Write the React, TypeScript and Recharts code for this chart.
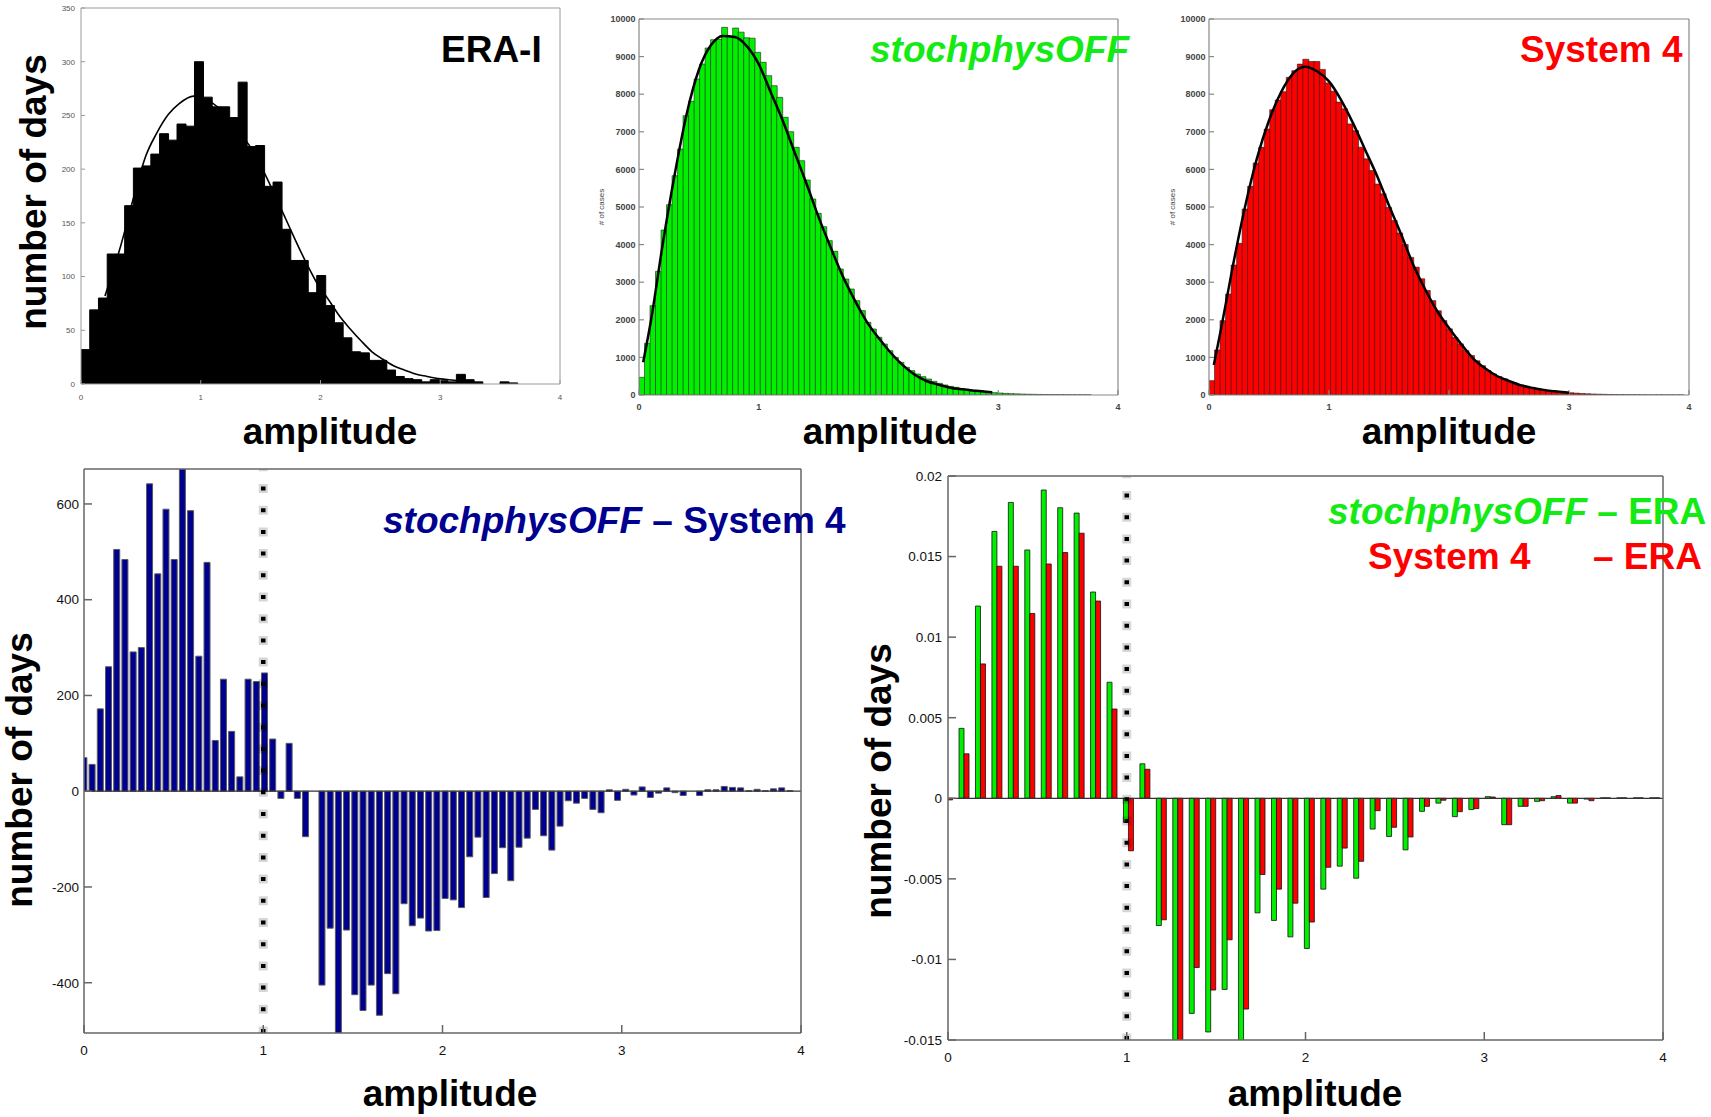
import React from 'react';
import { BarChart, LineChart, Bar, Line, XAxis, YAxis, ReferenceLine } from 'recharts';

const FONT = '"Liberation Sans", Arial, Helvetica, sans-serif';
const GREEN = '#00f000';
const GREEN_TEXT = '#14ea14';
const RED = '#ff0000';
const NAVY = '#000090';

// amplitude axis, shared by all five panels
const AMP_TICKS = [0, 1, 2, 3, 4];
const AMP_LABELS = ['0', '1', '2', '3', '4'];
const AMP_LABELS_MODEL = ['0', '1', '', '3', '4'];

// ERA-Interim: days per amplitude bin + fitted curve
const ERA_BIN = 0.0729;
const ERA_COUNTS = [
  32, 69, 80, 121, 121, 166, 201, 203, 214, 233, 227, 242, 240, 300, 267, 258, 258, 248, 281, 221,
  222, 184, 188, 144, 115, 115, 85, 101, 73, 57, 43, 30, 29, 22, 22, 13, 7, 5, 4, 2,
  4, 3, 2, 9, 4, 2, 0, 0, 2, 1,
];
const ERA_FIT_X = [
  0.2, 0.33, 0.45, 0.54, 0.63, 0.73, 0.82, 0.94, 1.06, 1.15, 1.24, 1.33, 1.43, 1.52, 1.61, 1.7,
  1.79, 1.88, 1.97, 2.07, 2.16, 2.25, 2.34, 2.43, 2.52, 2.61, 2.7, 2.8, 2.89, 2.98, 3.07, 3.16,
];
const ERA_FIT_Y = [
  82, 128, 178, 212, 233, 251, 261, 268, 264, 257, 246, 233, 218, 199, 178, 156,
  134, 113, 94, 78, 63, 51, 40, 30, 23, 17, 13, 9, 7, 5, 4, 3,
];
const ERA_Y_TICKS = [0, 50, 100, 150, 200, 250, 300, 350];

// stochphysOFF: cases per bin + fit
const OFF_BIN = 0.046;
const OFF_COUNTS = [
  470, 1374, 2376, 3289, 4388, 5062, 5833, 6542, 7429, 7810, 8404, 8803, 9229, 9450, 9460, 9778,
  9540, 9760, 9650, 9500, 9490, 9113, 8847, 8493, 8227, 7916, 7385, 7003, 6587, 6232, 5718, 5213,
  4831, 4477, 4105, 3821, 3351, 3085, 2819, 2509, 2243, 1933, 1755, 1534, 1356, 1179, 1002, 869,
  736, 647, 558, 488, 426, 363, 310, 266, 230, 204, 168, 145, 122, 103, 88, 75,
  62, 52, 43, 36, 30, 25, 21, 18, 15, 12, 10, 9, 7, 6, 5, 4, 4, 3,
];
const OFF_FIT_X = [
  0.035, 0.1, 0.2, 0.3, 0.4, 0.5, 0.6, 0.7, 0.8, 0.9, 1.0, 1.1, 1.2, 1.3, 1.4, 1.5,
  1.6, 1.7, 1.8, 1.9, 2.0, 2.1, 2.2, 2.3, 2.4, 2.5, 2.6, 2.7, 2.8, 2.9, 2.95,
];
const OFF_FIT_Y = [
  870, 1980, 4050, 5900, 7500, 8650, 9300, 9550, 9520, 9280, 8800, 8050, 7300, 6450, 5610, 4730,
  3930, 3170, 2530, 1960, 1520, 1130, 800, 545, 372, 275, 195, 150, 115, 85, 75,
];

// System 4: cases per bin + fit
const S4_BIN = 0.046;
const S4_COUNTS = [
  381, 1197, 1977, 2686, 3457, 4034, 4947, 5549, 6170, 6587, 7074, 7588, 7845, 8067, 8448, 8626,
  8800, 8930, 8870, 8870, 8660, 8300, 8080, 7790, 7610, 7210, 7030, 6590, 6280, 5970, 5610, 5350,
  4990, 4640, 4310, 4000, 3660, 3400, 3090, 2780, 2510, 2240, 1980, 1760, 1530, 1360, 1180, 1050,
  910, 780, 650, 560, 490, 430, 360, 310, 270, 230, 200, 175, 150, 125, 105, 88,
  72, 60, 50, 40, 33, 27, 22, 18, 14, 11, 9, 7, 6, 5, 4, 3, 3, 2, 2, 2, 1, 1,
];
const S4_FIT_X = [
  0.04, 0.1, 0.2, 0.3, 0.4, 0.5, 0.6, 0.7, 0.8, 0.9, 1.0, 1.1, 1.2, 1.3, 1.4, 1.5,
  1.6, 1.7, 1.8, 1.9, 2.0, 2.1, 2.2, 2.3, 2.4, 2.5, 2.6, 2.7, 2.8, 2.9, 3.0,
];
const S4_FIT_Y = [
  800, 1750, 3450, 5000, 6300, 7300, 8050, 8550, 8730, 8610, 8340, 7850, 7230, 6530, 5830, 5040,
  4280, 3480, 2820, 2240, 1780, 1360, 975, 710, 505, 372, 257, 186, 130, 90, 60,
];
const CASES_Y_TICKS = [0, 1000, 2000, 3000, 4000, 5000, 6000, 7000, 8000, 9000, 10000];

// stochphysOFF minus System 4 (days per bin)
const DIFF_STEP = 0.0458;
const DIFF_DAYS = [
  70, 56, 172, 260, 505, 484, 291, 300, 642, 454,
  589, 484, 690, 586, 282, 478, 106, 234, 125, 30,
  234, 229, 247, 109, -15, 100, -15, -95, 0, -405,
  -286, -530, -290, -425, -458, -405, -468, -381, -423, -235,
  -281, -265, -292, -291, -224, -227, -243, -137, -96, -222,
  -172, -118, -187, -117, -98, -38, -93, -123, -73, -20,
  -25, -15, -38, -45, 3, -19, 4, -8, 9, -13,
  -4, 7, -3, -9, 0, -9, 3, 3, 10, 8,
  7, 1, 4, 1, 5, 7, 1,
];
const DIFF_Y_TICKS = [-400, -200, 0, 200, 400, 600];
const DIFF_Y_DOMAIN: [number, number] = [-505, 673];

// model minus ERA, normalised frequency
const ERA_DIFF_STEP = 0.092;
const OFF_MINUS_ERA = [
  0, 0.00434, 0.01193, 0.01656, 0.01836, 0.01541, 0.01913, 0.01803, 0.0177, 0.0128,
  0.0072, -0.0015, 0.00214, -0.0079, -0.0175, -0.01335, -0.0145, -0.01186, -0.017, -0.00711,
  -0.00758, -0.0086, -0.00932, -0.00564, -0.00421, -0.00496, -0.00191, -0.00237, -0.0032, -0.00081,
  -0.0003, -0.00114, -0.0007, 0.0001, -0.00164, -0.0005, -0.00019, 0.0001, -0.0003, -0.00005,
  0.00003, 0.00003, 0.00003, 0.00003,
];
const S4_MINUS_ERA = [
  -0.0001, 0.00276, 0.00834, 0.0144, 0.0144, 0.01147, 0.01454, 0.01525, 0.01645, 0.01224,
  0.00554, -0.00326, 0.0018, -0.00754, -0.0175, -0.0105, -0.0119, -0.00878, -0.01308, -0.00473,
  -0.00564, -0.00651, -0.00768, -0.00428, -0.00309, -0.00391, -0.00077, -0.0018, -0.0024, -0.0005,
  -0.00012, -0.00083, -0.00064, 0.00008, -0.00164, -0.0005, -0.00015, 0.00017, -0.0003, -0.00015,
  0.00003, 0.00003, 0.00003, 0.00003,
];
const ERA_DIFF_Y_TICKS = [-0.015, -0.01, -0.005, 0, 0.005, 0.01, 0.015, 0.02];
const ERA_DIFF_Y_DOMAIN: [number, number] = [-0.015, 0.02];

const histRows = (bin: number, counts: number[]) =>
  counts.map((count, i) => ({ x: (i + 0.5) * bin, count }));
const curveRows = (xs: number[], ys: number[]) => xs.map((x, i) => ({ x, y: ys[i] }));

// plot rectangles on the page
type Frame = { left: number; top: number; width: number; height: number };
const ERA_FRAME: Frame = { left: 81, top: 8, width: 479, height: 376 };
const OFF_FRAME: Frame = { left: 639, top: 19, width: 479, height: 376 };
const S4_FRAME: Frame = { left: 1209, top: 19, width: 480, height: 376 };
const DIFF_FRAME: Frame = { left: 84, top: 469, width: 717, height: 564 };
const ERA_DIFF_FRAME: Frame = { left: 948, top: 476, width: 715, height: 564 };

const PAD = { left: 70, top: 12, right: 14, bottom: 40 };
// the bare top / right axes need a 1px band of their own to be drawn at all
const BARE = 1;
const BAR_MARGIN = { top: PAD.top - BARE, right: PAD.right - BARE, left: 0, bottom: 0 };

const chartSize = (f: Frame) => ({
  width: f.width + PAD.left + PAD.right,
  height: f.height + PAD.top + PAD.bottom,
});
const boxStyle = (f: Frame): React.CSSProperties => ({
  position: 'absolute',
  left: f.left - PAD.left,
  top: f.top - PAD.top,
  ...chartSize(f),
});

type AxisLook = {
  stroke: string;
  width: number;
  tick: number;
  font: number;
  weight: number;
  color: string;
  xGap: number;
  yGap: number;
};

const ERA_LOOK: AxisLook = { stroke: '#9a9a9a', width: 1, tick: 4, font: 8, weight: 400, color: '#555', xGap: 10, yGap: 6 };
const CASES_LOOK: AxisLook = { stroke: '#888', width: 1.2, tick: 5, font: 9, weight: 700, color: '#444', xGap: 8.5, yGap: 3.5 };
const DIFF_LOOK: AxisLook = { stroke: '#666', width: 1.5, tick: 8, font: 13.5, weight: 400, color: '#111', xGap: 12, yGap: 5 };

// closed MATLAB-style box: labelled bottom/left axes, bare top/right axes, ticks pointing inward
function boxAxes(look: AxisLook, yDomain: [number, number], yTicks: number[], xLabels: string[]) {
  const tickText = { fontSize: look.font, fontFamily: FONT, fontWeight: look.weight, fill: look.color };
  const line = { stroke: look.stroke, strokeWidth: look.width };
  return [
    <XAxis
      key="xb"
      dataKey="x"
      type="number"
      domain={[0, 4]}
      ticks={AMP_TICKS}
      interval={0}
      allowDataOverflow
      height={PAD.bottom}
      tickSize={-look.tick}
      tickMargin={look.tick + look.xGap}
      tickFormatter={(v: number) => xLabels[AMP_TICKS.indexOf(v)] ?? ''}
      tick={tickText}
      axisLine={line}
      tickLine={line}
      stroke={look.stroke}
    />,
    <XAxis
      key="xt"
      xAxisId="top"
      orientation="top"
      type="number"
      domain={[0, 4]}
      ticks={AMP_TICKS}
      interval={0}
      allowDataOverflow
      height={BARE}
      tickSize={-look.tick}
      tick={false}
      axisLine={line}
      tickLine={line}
      stroke={look.stroke}
    />,
    <YAxis
      key="yl"
      type="number"
      domain={yDomain}
      ticks={yTicks}
      interval={0}
      allowDataOverflow
      width={PAD.left}
      tickSize={-look.tick}
      tickMargin={look.tick + look.yGap}
      tick={tickText}
      axisLine={line}
      tickLine={line}
      stroke={look.stroke}
    />,
    <YAxis
      key="yr"
      yAxisId="right"
      orientation="right"
      type="number"
      domain={yDomain}
      ticks={yTicks}
      interval={0}
      allowDataOverflow
      width={BARE}
      tickSize={-look.tick}
      tick={false}
      axisLine={line}
      tickLine={line}
      stroke={look.stroke}
    />,
  ];
}

type HistProps = {
  frame: Frame;
  rows: { x: number; count: number }[];
  curve: { x: number; y: number }[];
  yMax: number;
  yTicks: number[];
  xLabels: string[];
  fill: string;
  edge: string;
  edgeWidth: number;
  curveWidth: number;
  look: AxisLook;
};

function HistPanel(p: HistProps) {
  const { width, height } = chartSize(p.frame);
  return (
    <>
      <div style={boxStyle(p.frame)}>
        <BarChart width={width} height={height} data={p.rows} margin={BAR_MARGIN} barCategoryGap={0} barGap={0}>
          {boxAxes(p.look, [0, p.yMax], p.yTicks, p.xLabels)}
          <Bar dataKey="count" fill={p.fill} stroke={p.edge} strokeWidth={p.edgeWidth} isAnimationActive={false} />
        </BarChart>
      </div>
      <div style={boxStyle(p.frame)}>
        <LineChart
          width={width}
          height={height}
          data={p.curve}
          margin={{ top: PAD.top, right: PAD.right, left: PAD.left, bottom: PAD.bottom }}
        >
          <XAxis dataKey="x" type="number" domain={[0, 4]} hide />
          <YAxis type="number" domain={[0, p.yMax]} hide />
          <Line
            dataKey="y"
            type="monotone"
            stroke="#000"
            strokeWidth={p.curveWidth}
            dot={false}
            isAnimationActive={false}
          />
        </LineChart>
      </div>
    </>
  );
}

// dotted marker at amplitude 1, with the soft grey halo around each dot
function amplitudeOne() {
  return [
    <ReferenceLine key="halo" x={1} stroke="#000" strokeOpacity={0.16} strokeWidth={9} strokeDasharray="9 12.7" strokeDashoffset={2.5} />,
    <ReferenceLine key="dots" x={1} stroke="#000" strokeWidth={4.5} strokeDasharray="4 17.7" />,
  ];
}

function DiffPanel() {
  const { width, height } = chartSize(DIFF_FRAME);
  const rows = DIFF_DAYS.map((days, i) => ({ x: i * DIFF_STEP, days }));
  return (
    <div style={boxStyle(DIFF_FRAME)}>
      <BarChart width={width} height={height} data={rows} margin={BAR_MARGIN} barCategoryGap="12%">
        {boxAxes(DIFF_LOOK, DIFF_Y_DOMAIN, DIFF_Y_TICKS, AMP_LABELS)}
        <ReferenceLine y={0} stroke="#333" strokeWidth={1.2} />
        <Bar dataKey="days" fill={NAVY} stroke="#5a5a5a" strokeWidth={1} isAnimationActive={false} />
        {amplitudeOne()}
      </BarChart>
    </div>
  );
}

function EraDiffPanel() {
  const { width, height } = chartSize(ERA_DIFF_FRAME);
  const rows = OFF_MINUS_ERA.map((off, i) => ({ x: i * ERA_DIFF_STEP, off, s4: S4_MINUS_ERA[i] }));
  return (
    <div style={boxStyle(ERA_DIFF_FRAME)}>
      <BarChart width={width} height={height} data={rows} margin={BAR_MARGIN} barCategoryGap="17%" barGap={0}>
        {boxAxes({ ...DIFF_LOOK, yGap: 6 }, ERA_DIFF_Y_DOMAIN, ERA_DIFF_Y_TICKS, AMP_LABELS)}
        <ReferenceLine y={0} stroke="#333" strokeWidth={1.2} />
        <Bar dataKey="off" fill={GREEN} stroke="#111" strokeWidth={0.8} isAnimationActive={false} />
        <Bar dataKey="s4" fill={RED} stroke="#111" strokeWidth={0.8} isAnimationActive={false} />
        {amplitudeOne()}
      </BarChart>
    </div>
  );
}

function Titles() {
  const big = { fontFamily: FONT, fontWeight: 700, fontSize: 37 };
  const small = { fontFamily: FONT, fontSize: 8, fill: '#444', textAnchor: 'middle' as const };
  const daysLabel = (x: number, y: number) => (
    <text transform={`translate(${x},${y}) rotate(-90)`} textAnchor="middle" fill="#000" {...big}>
      number of days
    </text>
  );
  const ampLabel = (x: number, y: number) => (
    <text x={x} y={y} textAnchor="middle" fill="#000" {...big}>
      amplitude
    </text>
  );
  return (
    <svg width={1711} height={1117} style={{ position: 'absolute', left: 0, top: 0, pointerEvents: 'none' }}>
      {daysLabel(46, 192)}
      {daysLabel(32, 770)}
      {daysLabel(891, 781)}
      {ampLabel(330, 444)}
      {ampLabel(890, 444)}
      {ampLabel(1449, 444)}
      {ampLabel(450, 1106)}
      {ampLabel(1315, 1106)}

      <text transform="translate(604,207) rotate(-90)" {...small}># of cases</text>
      <text transform="translate(1175,207) rotate(-90)" {...small}># of cases</text>

      <text x={441} y={62} fill="#000" {...big}>ERA-I</text>
      <text x={870} y={62} fill={GREEN_TEXT} fontStyle="italic" {...big}>stochphysOFF</text>
      <text x={1520} y={62} fill={RED} {...big}>System 4</text>

      <text x={383} y={533} fill={NAVY} {...big}>
        <tspan fontStyle="italic">stochphysOFF</tspan> – System 4
      </text>

      <text x={1328} y={524} fill={GREEN_TEXT} {...big}>
        <tspan fontStyle="italic">stochphysOFF</tspan> – ERA
      </text>
      <text x={1368} y={569} fill={RED} {...big}>System 4</text>
      <text x={1593} y={569} fill={RED} {...big}>– ERA</text>
    </svg>
  );
}

export default function App() {
  return (
    <div
      style={{
        position: 'absolute',
        left: 0,
        top: 0,
        width: 1711,
        height: 1117,
        background: '#fff',
        overflow: 'hidden',
        fontFamily: FONT,
      }}
    >
      <HistPanel
        frame={ERA_FRAME}
        rows={histRows(ERA_BIN, ERA_COUNTS)}
        curve={curveRows(ERA_FIT_X, ERA_FIT_Y)}
        yMax={350}
        yTicks={ERA_Y_TICKS}
        xLabels={AMP_LABELS}
        fill="#000"
        edge="#000"
        edgeWidth={1}
        curveWidth={1.6}
        look={ERA_LOOK}
      />
      <HistPanel
        frame={OFF_FRAME}
        rows={histRows(OFF_BIN, OFF_COUNTS)}
        curve={curveRows(OFF_FIT_X, OFF_FIT_Y)}
        yMax={10000}
        yTicks={CASES_Y_TICKS}
        xLabels={AMP_LABELS_MODEL}
        fill={GREEN}
        edge="#1f1f1f"
        edgeWidth={0.6}
        curveWidth={2.5}
        look={CASES_LOOK}
      />
      <HistPanel
        frame={S4_FRAME}
        rows={histRows(S4_BIN, S4_COUNTS)}
        curve={curveRows(S4_FIT_X, S4_FIT_Y)}
        yMax={10000}
        yTicks={CASES_Y_TICKS}
        xLabels={AMP_LABELS_MODEL}
        fill={RED}
        edge="#1f1f1f"
        edgeWidth={0.6}
        curveWidth={2.5}
        look={CASES_LOOK}
      />
      <DiffPanel />
      <EraDiffPanel />
      <Titles />
    </div>
  );
}
